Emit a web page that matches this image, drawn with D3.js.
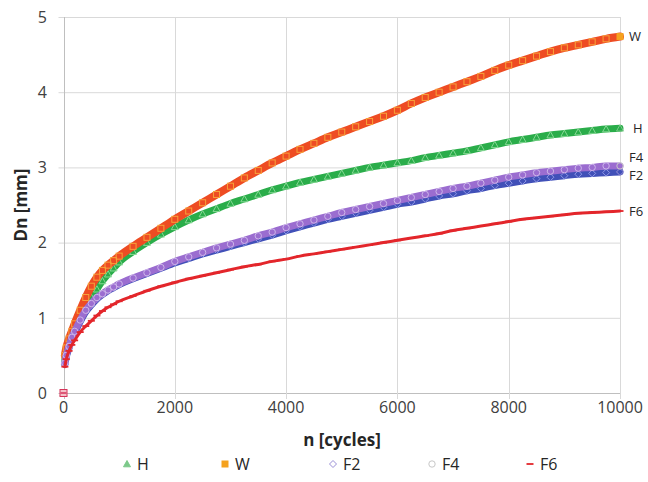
<!DOCTYPE html>
<html><head><meta charset="utf-8">
<script src="https://cdn.jsdelivr.net/npm/d3@7/dist/d3.min.js"></script>
<style>body{margin:0;background:#fff}svg{display:block}text{font-family:"Open Sans",sans-serif}</style>
</head><body>
<svg id="c" width="648" height="482"></svg>
<script>
const cycles = [0,25,50,100,150,200,300,400,500,600,700,800,900,1000,1250,1500,1750,2000,2250,2500,2750,3000,3250,3500,3750,4000,4250,4500,4750,5000,5250,5500,5750,6000,6250,6500,6750,7000,7250,7500,7750,8000,8250,8500,8750,9000,9250,9500,9750,10000];
const H  = [0,0.45,0.55,0.68,0.78,0.86,1.0,1.14,1.27,1.38,1.49,1.58,1.66,1.74,1.88,2.0,2.11,2.21,2.3,2.38,2.45,2.52,2.58,2.64,2.70,2.75,2.80,2.84,2.88,2.92,2.96,3.00,3.03,3.06,3.09,3.13,3.16,3.19,3.22,3.26,3.30,3.34,3.37,3.40,3.43,3.45,3.47,3.49,3.51,3.52];
const W  = [0,0.5,0.6,0.72,0.82,0.92,1.1,1.27,1.42,1.54,1.63,1.7,1.76,1.82,1.95,2.07,2.19,2.31,2.42,2.53,2.64,2.75,2.86,2.96,3.06,3.15,3.24,3.32,3.40,3.47,3.54,3.61,3.68,3.76,3.85,3.93,4.0,4.07,4.14,4.21,4.29,4.36,4.42,4.48,4.54,4.59,4.63,4.67,4.71,4.74];
const F2 = [0,0.38,0.48,0.6,0.72,0.8,0.95,1.08,1.17,1.25,1.31,1.36,1.4,1.44,1.52,1.59,1.66,1.73,1.79,1.85,1.9,1.95,2.0,2.05,2.1,2.16,2.21,2.26,2.31,2.35,2.39,2.43,2.47,2.51,2.54,2.58,2.62,2.65,2.69,2.72,2.76,2.79,2.82,2.85,2.87,2.89,2.91,2.92,2.93,2.94];
const F4 = [0,0.4,0.5,0.62,0.74,0.82,0.97,1.1,1.19,1.27,1.32,1.37,1.41,1.45,1.53,1.6,1.67,1.75,1.81,1.87,1.93,1.98,2.03,2.09,2.14,2.2,2.25,2.3,2.35,2.4,2.44,2.48,2.52,2.56,2.6,2.64,2.68,2.72,2.75,2.79,2.83,2.87,2.9,2.93,2.95,2.97,2.99,3.0,3.02,3.02];
const F6 = [0,0.35,0.45,0.56,0.64,0.7,0.81,0.89,0.96,1.03,1.09,1.14,1.18,1.22,1.29,1.36,1.42,1.47,1.52,1.56,1.6,1.64,1.68,1.71,1.75,1.78,1.82,1.85,1.88,1.91,1.94,1.97,2.0,2.03,2.06,2.09,2.12,2.16,2.19,2.22,2.25,2.28,2.31,2.33,2.35,2.37,2.39,2.4,2.41,2.42];
const seriesNames = ["H","W","F2","F4","F6"];
const xTicks = [0,2000,4000,6000,8000,10000];
const yTicks = [0,1,2,3,4,5];
const xTitle = "n [cycles]";
const yTitle = "Dn [mm]";

const series = [
  {name:"H",  vals:H,  band:"#2aad4a", bw:7, mk:"#86d894", shape:"tri",  leg:"#7cc98a", lab:0},
  {name:"W",  vals:W,  band:"#ee4c23", bw:8, mk:"#f7a23a", shape:"sq",   leg:"#f5a21e", lab:0},
  {name:"F2", vals:F2, band:"#4150b8", bw:7, mk:"#8f98e6", shape:"dia",  leg:"#9a8fd6", lab:3},
  {name:"F4", vals:F4, band:"#9b6dd0", bw:7, mk:"#cdb6ea", shape:"circ", leg:"#c8c8c8", lab:-9},
  {name:"F6", vals:F6, band:"#e3262b", bw:3, mk:"#e3262b", shape:"dash", leg:"#e3262b", lab:0}
];

const svg = d3.select("#c");
const x = d3.scaleLinear().domain([0,10000]).range([63.5,620]);
const y = d3.scaleLinear().domain([0,5]).range([393,17]);

// grid
svg.append("g").selectAll("line").data(yTicks).join("line")
  .attr("x1",x(0)-5).attr("x2",x(10000)).attr("y1",d=>y(d)+0.5).attr("y2",d=>y(d)+0.5)
  .attr("stroke",d=>d===0?"#bfbfbf":"#d9d9d9").attr("stroke-width",1);
svg.append("g").selectAll("line").data(xTicks).join("line")
  .attr("x1",d=>Math.round(x(d))+0.5).attr("x2",d=>Math.round(x(d))+0.5).attr("y1",y(5)).attr("y2",y(0)+6)
  .attr("stroke",d=>d===0?"#bfbfbf":"#d9d9d9").attr("stroke-width",1);

// tick labels
svg.append("g").selectAll("text").data(yTicks).join("text")
  .attr("x",47).attr("y",d=>y(d)).attr("dy","0.36em").attr("text-anchor","end")
  .attr("font-size",16).attr("fill","#404040").text(d=>d);
svg.append("g").selectAll("text").data(xTicks).join("text")
  .attr("x",d=>x(d)).attr("y",413).attr("text-anchor","middle")
  .attr("font-size",16).attr("fill","#404040").text(d=>d);

svg.append("text").attr("x",342).attr("y",446).attr("text-anchor","middle")
  .attr("font-size",17).attr("font-weight","bold").attr("fill","#262626").text(xTitle);
svg.append("text").attr("transform","translate(27,205) rotate(-90)").attr("text-anchor","middle")
  .attr("font-size",17).attr("font-weight","bold").attr("fill","#262626").text(yTitle);

function marker(sel, shape, color, filled){
  const f = filled ? color : "none";
  if(shape==="tri") sel.append("path").attr("d","M0,-3.5L3.5,2.8L-3.5,2.8Z").attr("fill",f).attr("stroke",color).attr("stroke-width",1);
  else if(shape==="sq") sel.append("rect").attr("x",-3).attr("y",-3).attr("width",6).attr("height",6).attr("fill",f).attr("stroke",color).attr("stroke-width",1);
  else if(shape==="dia") sel.append("path").attr("d","M0,-3.5L3.5,0L0,3.5L-3.5,0Z").attr("fill",f).attr("stroke",color).attr("stroke-width",1);
  else if(shape==="circ") sel.append("circle").attr("r",3.2).attr("fill",f).attr("stroke",color).attr("stroke-width",1);
  else sel.append("line").attr("x1",-3.5).attr("x2",3.5).attr("stroke",color).attr("stroke-width",1.8);
}

const line = d3.line().x(d=>x(d[0])).y(d=>y(d[1])).curve(d3.curveMonotoneX);
series.forEach(s=>{
  const pts = cycles.map((c,i)=>[c,s.vals[i]]);
  const g = svg.append("g");
  g.append("path").datum(pts.slice(1)).attr("d",line).attr("fill","none")
    .attr("stroke",s.band).attr("stroke-width",s.bw).attr("stroke-linejoin","round").attr("stroke-linecap","round");
  pts.forEach((p,i)=>{
    const m = g.append("g").attr("transform",`translate(${x(p[0])},${y(p[1])})`);
    const last = i===pts.length-1;
    marker(m, s.shape, last ? s.leg : s.mk, last && s.shape==="sq");
  });
});
// origin marker
const o = svg.append("g").attr("transform",`translate(${x(0)},${y(0)})`);
o.append("rect").attr("x",-3.5).attr("y",-3.5).attr("width",7).attr("height",7).attr("fill","#f3c0c8").attr("stroke","#d6345a").attr("stroke-width",1);
o.append("line").attr("x1",-3).attr("x2",3).attr("stroke","#d6345a").attr("stroke-width",1.5);

// end labels
series.forEach(s=>{
  svg.append("text").attr("x",s.name==="H"?633:629).attr("y",y(s.vals[s.vals.length-1])+s.lab)
    .attr("dy","0.36em").attr("font-size",13).attr("fill","#262626").text(s.name);
});

// legend
const legX = [127,225,333,432,530];
series.forEach((s,i)=>{
  const g = svg.append("g").attr("transform",`translate(${legX[i]},464)`);
  marker(g, s.shape, s.leg, s.shape==="sq"||s.shape==="tri");
  g.append("text").attr("x",10).attr("dy","0.36em").attr("font-size",16).attr("fill","#262626").text(seriesNames[i]);
});
</script>
</body></html>
